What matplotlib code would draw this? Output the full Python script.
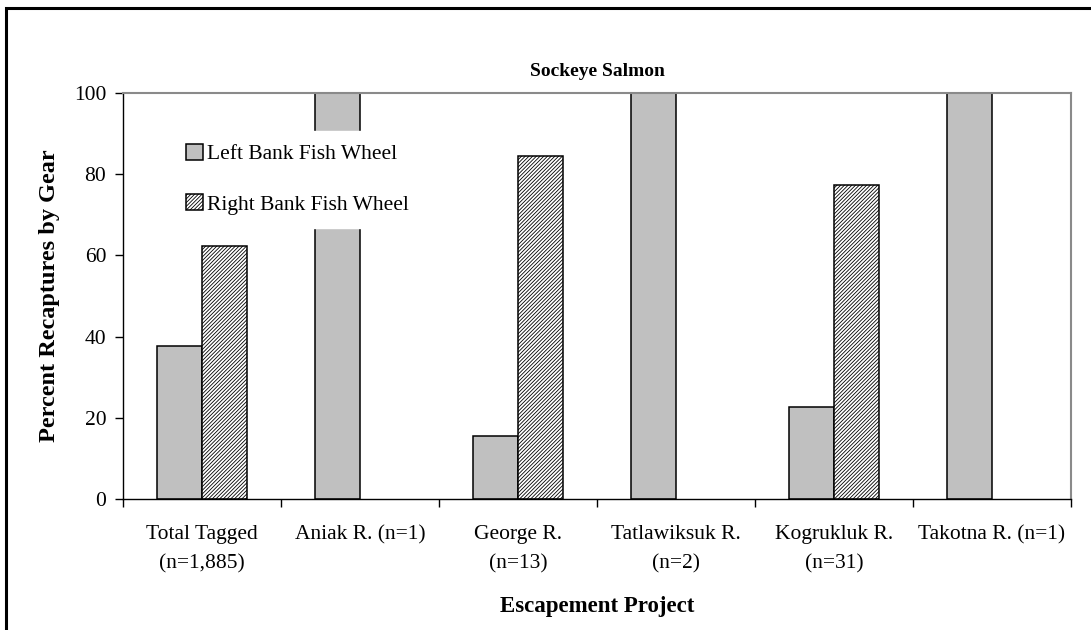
import numpy as np
import matplotlib
matplotlib.use("Agg")
import matplotlib.pyplot as plt
from matplotlib.patches import Rectangle

plt.rcParams["font.family"] = ["Liberation Serif", "DejaVu Serif"]
plt.rcParams["hatch.linewidth"] = 0.6

# Data
projects = [
    "Total Tagged\n(n=1,885)",
    "Aniak R. (n=1)",
    "George R.\n(n=13)",
    "Tatlawiksuk R.\n(n=2)",
    "Kogrukluk R.\n(n=31)",
    "Takotna R. (n=1)",
]
left_bank = [37.6, 100, 15.4, 100, 22.6, 100]
right_bank = [62.4, 0, 84.6, 0, 77.4, 0]

fig = plt.figure(figsize=(10.91, 6.30), dpi=100)
ax = fig.add_axes((123 / 1091, 1 - 499 / 630, 948 / 1091, 406 / 630))

x = np.arange(len(projects))
w = 0.285
lb = ax.bar(x - w / 2, left_bank, w, color="#c0c0c0", edgecolor="black",
            linewidth=1.1, label="Left Bank Fish Wheel", zorder=2)
rb = ax.bar(x + w / 2, right_bank, w, color="white", edgecolor="black",
            hatch="/" * 9, linewidth=1.1, label="Right Bank Fish Wheel", zorder=2)
# zero-height bars are not drawn in the original
for bars in (lb, rb):
    for b in bars:
        if b.get_height() == 0:
            b.set_visible(False)

ax.set_xlim(-0.5, len(projects) - 0.5)
ax.set_ylim(0, 100)
ax.set_yticks(range(0, 101, 20))
ax.set_xticks(x)
ax.set_xticklabels(projects, fontsize=15.5, linespacing=1.7)
ax.set_xticks(np.arange(-0.5, len(projects)), minor=True)
ax.tick_params(axis="x", which="major", length=0, pad=19)
ax.tick_params(axis="x", which="minor", length=6, width=1.0, direction="out")
ax.tick_params(axis="y", labelsize=15.5, length=6, width=1.0, direction="out", pad=6)

for s in ["top", "right"]:
    ax.spines[s].set_color("#8a8a8a")
    ax.spines[s].set_linewidth(1.5)
for s in ["left", "bottom"]:
    ax.spines[s].set_color("black")
    ax.spines[s].set_linewidth(1.0)

ax.set_title("Sockeye Salmon", fontsize=14, fontweight="bold", pad=12)
ax.set_ylabel("Percent Recaptures by Gear", fontsize=17.5, fontweight="bold", labelpad=10)
ax.set_xlabel("Escapement Project", fontsize=16.5, fontweight="bold", labelpad=16)

leg = ax.legend(loc="upper left", bbox_to_anchor=(0.042, 0.933), fontsize=15.5,
                frameon=True, facecolor="white", edgecolor="white", framealpha=1,
                handlelength=0.75, handleheight=0.75, handletextpad=0.2,
                labelspacing=1.4, borderpad=0.6, fancybox=False)
leg.set_zorder(5)

# figure border (left and top edges visible)
fig.add_artist(Rectangle((6 / 1091, -0.2), 1.5, 1.2 - 8 / 630, fill=False,
                         edgecolor="black", linewidth=2.2,
                         transform=fig.transFigure))

fig.savefig("out.png", dpi=100)
